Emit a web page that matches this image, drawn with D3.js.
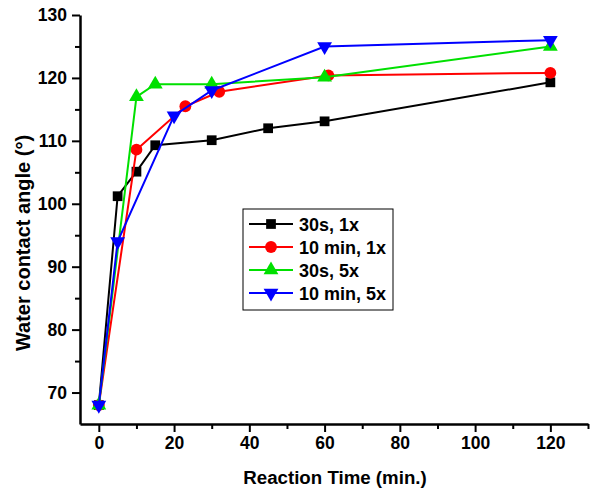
<!DOCTYPE html>
<html>
<head>
<meta charset="utf-8">
<script src="https://cdn.jsdelivr.net/npm/d3@7"></script>
<style>
  body { margin: 0; background: #fff; }
  svg text { font-family: "Liberation Sans", Arial, sans-serif; font-weight: bold; }
</style>
</head>
<body>
<div id="chart"></div>
<script>
// series data (reaction time in min, water contact angle in degrees)
const names = ["30s, 1x", "10 min, 1x", "30s, 5x", "10 min, 5x"];
const colors = ["#000000", "#ff0000", "#00e000", "#0000ff"];
const symbols = ["square", "circle", "triangle", "triangleDown"];

const x30s1 = [0, 5, 10, 15, 30, 45, 60, 120];
const y30s1 = [68, 101.2, 105.1, 109.3, 110.1, 112, 113.1, 119.3];

const x10m1 = [0, 10, 23, 32, 61, 120];
const y10m1 = [68, 108.6, 115.5, 117.8, 120.4, 120.8];

const x30s5 = [0, 10, 15, 30, 60, 120];
const y30s5 = [68, 117, 119, 119, 120.1, 125];

const x10m5 = [0, 5, 20, 30, 60, 120];
const y10m5 = [68, 94, 114, 118, 125, 126];

const xTicks = [0, 20, 40, 60, 80, 100, 120];
const yTicks = [70, 80, 90, 100, 110, 120, 130];

const seriesX = [x30s1, x10m1, x30s5, x10m5];
const seriesY = [y30s1, y10m1, y30s5, y10m5];

const width = 600, height = 494;
const margin = { top: 15, right: 12, bottom: 70, left: 80 };

const svg = d3.select("#chart").append("svg")
  .attr("width", width)
  .attr("height", height);

const x = d3.scaleLinear()
  .domain([-5, 130])
  .range([margin.left, width - margin.right]);

const y = d3.scaleLinear()
  .domain([65, 130])
  .range([height - margin.bottom, margin.top]);

// minor ticks first, then major with labels
svg.append("g")
  .attr("transform", `translate(0,${height - margin.bottom})`)
  .call(d3.axisBottom(x).tickValues(d3.range(10, 131, 20)).tickSize(5).tickFormat(""))
  .call(g => g.select(".domain").remove())
  .call(g => g.selectAll("line").attr("stroke-width", 2));

svg.append("g")
  .attr("transform", `translate(${margin.left},0)`)
  .call(d3.axisLeft(y).tickValues(d3.range(75, 130, 10)).tickSize(5).tickFormat(""))
  .call(g => g.select(".domain").remove())
  .call(g => g.selectAll("line").attr("stroke-width", 2));

const xAxis = svg.append("g")
  .attr("transform", `translate(0,${height - margin.bottom})`)
  .call(d3.axisBottom(x).tickValues(xTicks).tickSize(8).tickSizeOuter(0).tickPadding(5));

const yAxis = svg.append("g")
  .attr("transform", `translate(${margin.left},0)`)
  .call(d3.axisLeft(y).tickValues(yTicks).tickSize(8).tickSizeOuter(0).tickPadding(5));

[xAxis, yAxis].forEach(g => {
  g.select(".domain").attr("stroke-width", 2.5);
  g.selectAll(".tick line").attr("stroke-width", 2);
  g.selectAll(".tick text").attr("font-size", 17.5).attr("fill", "#000");
});

// axis titles
svg.append("text")
  .attr("x", 335)
  .attr("y", 484)
  .attr("text-anchor", "middle")
  .attr("font-size", 18.7)
  .text("Reaction Time (min.)");

svg.append("text")
  .attr("transform", "translate(30,243) rotate(-90)")
  .attr("text-anchor", "middle")
  .attr("font-size", 20)
  .text("Water contact angle (°)");

const symbolType = {
  square: d3.symbolSquare,
  circle: d3.symbolCircle,
  triangle: d3.symbolTriangle,
  triangleDown: d3.symbolTriangle
};
const symbolSize = { square: 95, circle: 110, triangle: 95, triangleDown: 95 };

function marker(sel, s, i) {
  sel.attr("d", d3.symbol().type(symbolType[s]).size(symbolSize[s]))
    .attr("fill", colors[i]);
}

const line = d3.line()
  .x(d => x(d[0]))
  .y(d => y(d[1]));

names.forEach((name, i) => {
  const pts = seriesX[i].map((v, j) => [v, seriesY[i][j]]);
  const g = svg.append("g");
  g.append("path")
    .datum(pts)
    .attr("fill", "none")
    .attr("stroke", colors[i])
    .attr("stroke-width", 2)
    .attr("d", line);
  g.selectAll("path.pt")
    .data(pts)
    .join("path")
    .attr("class", "pt")
    .attr("transform", d => `translate(${x(d[0])},${y(d[1])})` + (symbols[i] === "triangleDown" ? " rotate(180)" : ""))
    .call(sel => marker(sel, symbols[i], i));
});

// legend
const lg = svg.append("g").attr("transform", "translate(243,209)");
lg.append("rect")
  .attr("width", 150)
  .attr("height", 101)
  .attr("fill", "#fff")
  .attr("stroke", "#000")
  .attr("stroke-width", 1);

names.forEach((name, i) => {
  const ry = 15 + i * 23;
  lg.append("line")
    .attr("x1", 6).attr("x2", 50)
    .attr("y1", ry).attr("y2", ry)
    .attr("stroke", colors[i])
    .attr("stroke-width", 2);
  lg.append("path")
    .attr("transform", `translate(28,${ry})` + (symbols[i] === "triangleDown" ? " rotate(180)" : ""))
    .call(sel => marker(sel, symbols[i], i));
  lg.append("text")
    .attr("x", 56)
    .attr("y", ry + 6.5)
    .attr("font-size", 18)
    .text(name);
});
</script>
</body>
</html>
